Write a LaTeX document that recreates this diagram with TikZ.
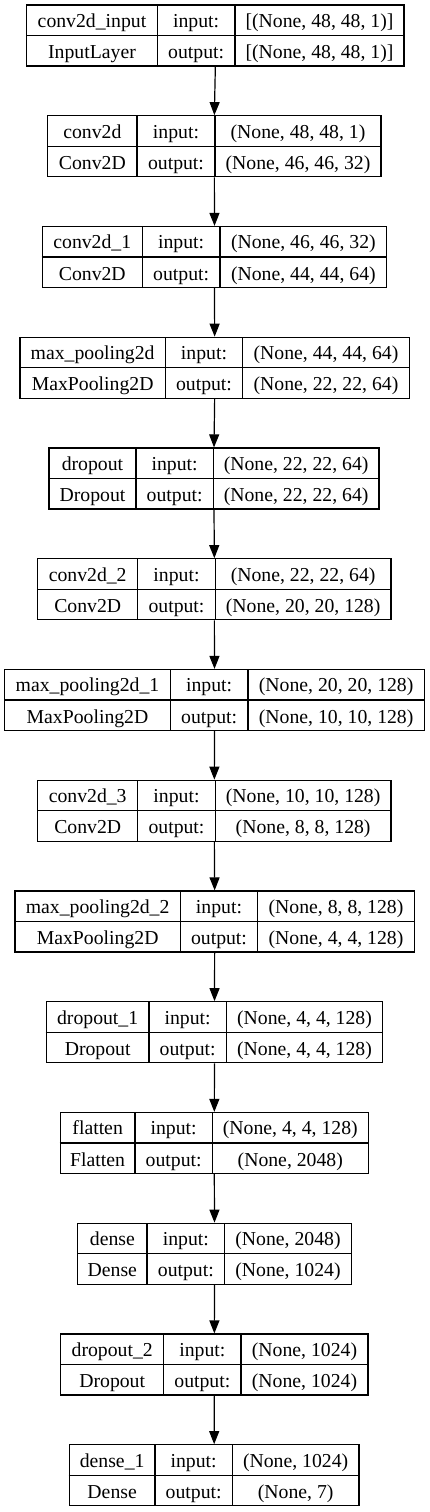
\documentclass[tikz,border=0pt]{standalone}
\usepackage{fontspec}
\setmainfont{Liberation Serif}
\usetikzlibrary{arrows.meta}
\tikzset{
  layer/.style={draw=black, line width=0.9pt, inner sep=0pt},
  cell/.style={anchor=base, inner sep=0pt, font=\fontsize{14.8}{17}\selectfont},
  flow/.style={line width=0.9pt, -{Triangle[length=9.75pt,width=7.5pt]}},
}
\begin{document}
\begin{tikzpicture}[x=0.75pt, y=-0.75pt]
  \useasboundingbox (0,0) rectangle (429,1512);
  % one box per layer: index / column edges / name / class / input / output
  \foreach \i/\a/\b/\c/\d/\nm/\cls/\inp/\outp in {
    0/26.7/157.3/235/404/conv2d\_input/InputLayer/{[(None, 48, 48, 1)]}/{[(None, 48, 48, 1)]},
    1/47.7/137/215/381/conv2d/Conv2D/{(None, 48, 48, 1)}/{(None, 46, 46, 32)},
    2/42.3/142.3/220/386.7/conv2d\_1/Conv2D/{(None, 46, 46, 32)}/{(None, 44, 44, 64)},
    3/20/165.3/242.7/409.3/max\_pooling2d/MaxPooling2D/{(None, 44, 44, 64)}/{(None, 22, 22, 64)},
    4/49/136/213.3/379/dropout/Dropout/{(None, 22, 22, 64)}/{(None, 22, 22, 64)},
    5/37.7/137.7/215.3/391/conv2d\_2/Conv2D/{(None, 22, 22, 64)}/{(None, 20, 20, 128)},
    6/4.7/170.3/248/424.3/max\_pooling2d\_1/MaxPooling2D/{(None, 20, 20, 128)}/{(None, 10, 10, 128)},
    7/37.7/137.7/215.3/391/conv2d\_3/Conv2D/{(None, 10, 10, 128)}/{(None, 8, 8, 128)},
    8/15/180.3/257.7/414.3/max\_pooling2d\_2/MaxPooling2D/{(None, 8, 8, 128)}/{(None, 4, 4, 128)},
    9/46.3/149/226.3/382.7/dropout\_1/Dropout/{(None, 4, 4, 128)}/{(None, 4, 4, 128)},
    10/60.3/135/212.3/368.3/flatten/Flatten/{(None, 4, 4, 128)}/{(None, 2048)},
    11/77.7/147/224.7/351.3/dense/Dense/{(None, 2048)}/{(None, 1024)},
    12/60.7/163.7/241/368/dropout\_2/Dropout/{(None, 1024)}/{(None, 1024)},
    13/69.3/155/232.3/359/dense\_1/Dense/{(None, 1024)}/{(None, 7)}
  }{
    \pgfmathsetmacro\yt{5+110.75*\i}
    \pgfmathsetmacro\yb{\yt+61}
    \node[layer, minimum width={(\d-\a)*0.75pt}, minimum height={61*0.75pt}]
      (l\i) at ({(\a+\d)/2},{\yt+30.5}) {};
    \draw[line width=0.9pt] (l\i.west) -- (l\i.east);
    \draw[line width=0.9pt] (\b,\yt) -- (\b,\yb) (\c,\yt) -- (\c,\yb);
    % cell texts
    \node[cell] (nm\i) at ({(\a+\b)/2},{\yt+22.3}) {\nm};
    \node[cell] (cls\i) at ({(\a+\b)/2},{\yt+53.5}) {\cls};
    \node[cell] (in\i) at ({(\b+\c)/2},{\yt+22.3}) {input:};
    \node[cell] (out\i) at ({(\b+\c)/2},{\yt+53.5}) {output:};
    \node[cell] (ish\i) at ({(\c+\d)/2},{\yt+22.3}) {\inp};
    \node[cell] (osh\i) at ({(\c+\d)/2},{\yt+53.5}) {\outp};
  }
  % arrows between layers
  \foreach \i [evaluate=\i as \j using int(\i+1)] in {0,...,12}
    \draw[flow] (l\i.south) -- (l\j.north);
\end{tikzpicture}
\end{document}
